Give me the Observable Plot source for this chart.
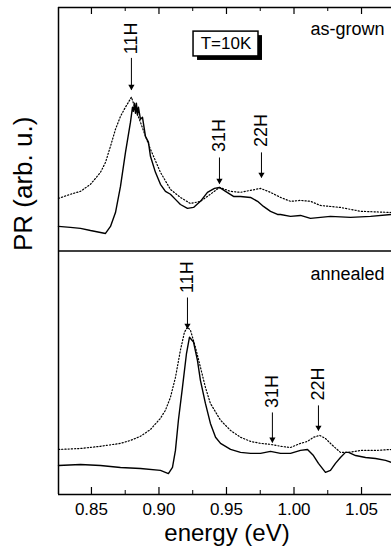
<!DOCTYPE html>
<html><head><meta charset="utf-8">
<script src="https://cdn.jsdelivr.net/npm/d3@7"></script>
<script src="https://cdn.jsdelivr.net/npm/@observablehq/plot@0.6"></script>
<style>body{margin:0;background:#fff} #chart svg{display:block}</style>
</head><body><div id="chart"></div>
<script>
// ---- data (PR, arbitrary units, each panel spans 0..100) ----
const panelOffset = {"as-grown": 100, "annealed": 0};
const xTicksMajor = [0.85, 0.90, 0.95, 1.00, 1.05];
const xTicksMinor = [0.875, 0.925, 0.975, 1.025];

// as-grown, solid
const eTopSolid = [0.8256,0.8344,0.8419,0.8493,0.8567,0.8604,0.8641,0.8678,0.8715,0.8752,0.8789,0.8804,0.8811,0.8819,0.8826,0.8833,0.8841,0.8848,0.8863,0.8878,0.8900,0.8922,0.8937,0.8974,0.9011,0.9048,0.9085,0.9122,0.9159,0.9211,0.9256,0.9307,0.9359,0.9411,0.9448,0.9493,0.9552,0.9604,0.9678,0.9730,0.9774,0.9826,0.9878,0.9900,0.9974,1.0048,1.0122,1.0196,1.0270,1.0419,1.0567,1.0722];
const prTopSolid = [10.1,9.7,9.3,8.4,7.6,7.2,10.1,15.8,26.5,40.5,52.9,59.1,57.4,60.7,56.6,60.7,55.8,59.1,54.1,54.9,47.1,44.7,38.9,32.3,27.4,24.5,23.3,21.2,19.1,17.5,17.9,20.4,24.1,25.7,26.1,24.5,22.4,22.4,22.0,20.4,18.3,16.3,15.0,15.0,14.2,14.6,13.4,13.8,14.2,13.8,14.2,15.0];
// as-grown, dotted
const eTopDot = [0.8256,0.8344,0.8419,0.8493,0.8567,0.8604,0.8641,0.8678,0.8715,0.8752,0.8774,0.8796,0.8826,0.8863,0.8900,0.8937,0.9011,0.9085,0.9159,0.9233,0.9307,0.9381,0.9448,0.9530,0.9604,0.9678,0.9752,0.9826,0.9900,0.9974,1.0048,1.0122,1.0196,1.0344,1.0493,1.0722];
const prTopDot = [21.6,23.3,24.5,27.4,32.3,36.4,43.0,50.0,55.3,59.1,61.1,63.2,58.2,52.9,47.1,41.8,32.3,25.3,22.0,19.5,20.4,23.3,26.1,24.5,24.1,24.9,25.7,24.1,22.0,20.4,20.8,20.4,18.7,17.9,16.3,15.8];
// annealed, solid
const eBotSolid = [0.8256,0.8419,0.8567,0.8715,0.8863,0.9011,0.9070,0.9100,0.9122,0.9144,0.9174,0.9204,0.9226,0.9256,0.9285,0.9307,0.9344,0.9381,0.9419,0.9456,0.9530,0.9604,0.9678,0.9752,0.9826,0.9900,0.9974,1.0048,1.0100,1.0144,1.0181,1.0233,1.0270,1.0307,1.0344,1.0381,1.0404,1.0456,1.0530,1.0604,1.0678,1.0722];
const prBotSolid = [11.9,12.3,11.9,11.1,10.7,9.9,8.6,11.1,18.1,30.5,44.0,58.0,64.6,62.6,55.1,46.9,37.4,29.2,23.5,21.0,18.5,17.3,16.9,16.9,17.7,16.9,16.9,18.1,18.5,16.0,12.8,9.1,9.9,12.8,15.2,17.3,17.3,16.0,15.2,14.8,14.0,13.2];
// annealed, dotted
const eBotDot = [0.8256,0.8419,0.8567,0.8715,0.8789,0.8863,0.8937,0.9011,0.9048,0.9085,0.9122,0.9159,0.9189,0.9211,0.9233,0.9270,0.9307,0.9344,0.9381,0.9456,0.9530,0.9604,0.9678,0.9752,0.9826,0.9900,0.9974,1.0048,1.0100,1.0144,1.0189,1.0233,1.0285,1.0344,1.0404,1.0493,1.0604,1.0722];
const prBotDot = [18.5,18.9,19.8,21.0,22.2,23.9,26.7,31.3,34.6,39.9,48.1,59.3,66.7,68.7,67.5,60.5,52.3,44.0,37.4,30.5,26.3,23.5,21.8,21.0,20.6,19.8,19.3,21.0,21.8,23.5,24.3,23.0,20.2,17.3,17.3,18.1,18.1,18.5];

// peak annotations
const peakPanel  = ["as-grown","as-grown","as-grown","annealed","annealed","annealed"];
const peakLabel  = ["11H","31H","22H","11H","31H","22H"];
const peakEnergy = [0.8796,0.9448,0.9759,0.9211,0.9840,1.0181];
const peakTextY  = [87.3,47.4,49.5,89.3,42.3,45.4];
const peakArrowFrom = [79.3,38.4,40.5,80.9,33.7,36.6];
const peakArrowTo   = [66.3,27.7,30.2,68.2,21.4,26.3];

const panelNames = ["as-grown","annealed"];
const panelNameY = [88.7, 87.9];
const tempLabel = "T=10K";
const tempBox = {x1: 0.9256, x2: 0.9737, y1: 79.9, y2: 90.1, panel: "as-grown"};

// ---- build tables ----
function series(es, vs, panel) {
  return es.map((e, i) => ({energy: e, pr: vs[i] + panelOffset[panel]}));
}
const solid = series(eTopSolid, prTopSolid, "as-grown");
const solid2 = series(eBotSolid, prBotSolid, "annealed");
const dotted = series(eTopDot, prTopDot, "as-grown");
const dotted2 = series(eBotDot, prBotDot, "annealed");
const peaks = peakLabel.map((l, i) => ({
  label: l, energy: peakEnergy[i],
  ty: peakTextY[i] + panelOffset[peakPanel[i]],
  a1: peakArrowFrom[i] + panelOffset[peakPanel[i]],
  a2: peakArrowTo[i] + panelOffset[peakPanel[i]]
}));
const box = [{x1: tempBox.x1, x2: tempBox.x2, y1: tempBox.y1 + panelOffset[tempBox.panel], y2: tempBox.y2 + panelOffset[tempBox.panel]}];
const names = panelNames.map((n, i) => ({name: n, y: panelNameY[i] + panelOffset[n]}));

const font = "'Liberation Sans', Arial, Helvetica, sans-serif";
const xDomain = [0.8256, 1.0722];

const chart = Plot.plot({
  width: 391, height: 552,
  marginTop: 7, marginBottom: 58, marginLeft: 58, marginRight: 0,
  style: {fontFamily: font, background: "#fff", color: "#000", overflow: "visible"},
  x: {domain: xDomain, axis: null},
  y: {domain: [0, 200], axis: null},
  marks: [
    // frame: left, bottom, divider, top
    Plot.ruleX([xDomain[0]], {stroke: "#000", strokeWidth: 1.5}),
    Plot.ruleY([0, 100, 200], {stroke: "#000", strokeWidth: 1.5}),
    // inward ticks, bottom and top
    Plot.ruleX(xTicksMajor, {x: d => d, insetTop: 480, stroke: "#000", strokeWidth: 1.2}),
    Plot.ruleX(xTicksMinor, {x: d => d, insetTop: 483, stroke: "#000", strokeWidth: 1}),
    Plot.ruleX(xTicksMajor, {x: d => d, insetBottom: 480, stroke: "#000", strokeWidth: 1.2}),
    Plot.ruleX(xTicksMinor, {x: d => d, insetBottom: 483, stroke: "#000", strokeWidth: 1}),
    // curves
    Plot.line(dotted, {x: "energy", y: "pr", stroke: "#000", strokeWidth: 1.2, strokeDasharray: "1.2,2"}),
    Plot.line(dotted2, {x: "energy", y: "pr", stroke: "#000", strokeWidth: 1.2, strokeDasharray: "1.2,2"}),
    Plot.line(solid, {x: "energy", y: "pr", stroke: "#000", strokeWidth: 1.4}),
    Plot.line(solid2, {x: "energy", y: "pr", stroke: "#000", strokeWidth: 1.4}),
    // peak labels and arrows
    Plot.text(peaks, {x: "energy", y: "ty", text: "label", rotate: -90, fontSize: 18, fontFamily: font, fill: "#000"}),
    Plot.link(peaks, {x1: "energy", x2: "energy", y1: "a1", y2: "a2", stroke: "#000", strokeWidth: 1}),
    Plot.dot(peaks, {x: "energy", y: "a2", symbol: "triangle", r: 2.3, rotate: 180, dy: -3, fill: "#000", stroke: "none"}),
    // T=10K box with shadow
    Plot.rect(box, {x1: "x1", x2: "x2", y1: "y1", y2: "y2", fill: "#000", dx: 4, dy: 4}),
    Plot.rect(box, {x1: "x1", x2: "x2", y1: "y1", y2: "y2", fill: "#fff", stroke: "#000", strokeWidth: 1.5}),
    Plot.text([tempLabel], {x: (box[0].x1 + box[0].x2) / 2, y: (box[0].y1 + box[0].y2) / 2, text: d => d, fontSize: 17, fontFamily: font, fill: "#000"}),
    // panel names
    Plot.text(names, {x: xDomain[1], y: "y", text: "name", textAnchor: "end", lineAnchor: "bottom", dx: -7, fontSize: 18, fontFamily: font, fill: "#000"}),
    // tick labels
    Plot.text(xTicksMajor, {x: d => d, frameAnchor: "bottom", lineAnchor: "top", dy: 8, text: d => d3.format(".2f")(d), fontSize: 17, fontFamily: font, fill: "#000"}),
    // axis titles
    Plot.text(["energy (eV)"], {frameAnchor: "bottom", lineAnchor: "bottom", dy: 46, dx: 2, text: d => d, fontSize: 24, fontFamily: font, fill: "#000"}),
    Plot.text(["PR (arb. u.)"], {frameAnchor: "left", dx: -35, rotate: -90, text: d => d, fontSize: 26, fontFamily: font, fill: "#000"})
  ]
});
document.getElementById("chart").appendChild(chart);
</script>
</body></html>
